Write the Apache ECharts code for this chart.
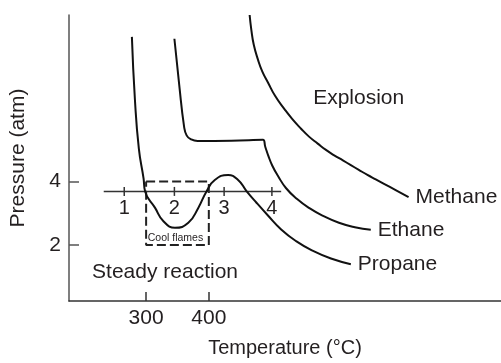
<!DOCTYPE html>
<html>
<head>
<meta charset="utf-8">
<script src="https://cdn.jsdelivr.net/npm/echarts@6/dist/echarts.min.js"></script>
<style>html,body{margin:0;padding:0;background:#fff}#c{width:501px;height:363px}</style>
</head>
<body>
<div id="c"></div>
<script>
// Temperature (°C), Pressure (atm)
const methane = [[465.1,9.26],[467.8,8.79],[471.7,8.32],[478.4,7.85],[485.2,7.48],[494.3,7.13],[505.9,6.70],[520.6,6.29],[532.9,5.98],[547.1,5.67],[559.8,5.42],[573.7,5.20],[586.8,5.00],[600.0,4.83],[613.8,4.67],[626.5,4.52],[639.2,4.37],[653.0,4.21],[666.2,4.07],[679.4,3.93],[698.0,3.73],[718.6,3.51]];
const ethane = [[345.1,8.51],[352.7,7.07],[360.6,5.73],[364.6,5.46],[371.0,5.34],[382.1,5.28],[436.0,5.29],[486.3,5.32],[490.0,5.10],[494.8,4.82],[501.1,4.51],[510.6,4.17],[523.3,3.79],[540.8,3.45],[559.8,3.17],[582.1,2.92],[607.5,2.70],[632.9,2.56],[658.3,2.48]];
const propane = [[277.3,8.57],[282.1,6.60],[288.4,5.04],[295.9,4.10],[298.4,3.69],[314.3,3.17],[327.6,2.75],[346.0,2.54],[367.3,2.70],[383.2,3.17],[396.3,3.69],[409.5,4.05],[430.8,4.21],[446.7,4.05],[459.8,3.71],[475.7,3.34],[494.3,2.93],[515.4,2.49],[539.2,2.12],[566.2,1.81],[594.8,1.57],[626.5,1.39]];
const coolFlameBox = [[300,4],[400,4],[400,2],[300,2],[300,4]];
const scaleLine = [[232.4,3.69],[515.4,3.69]];
const scaleTicks = [[265.1,3.69,'1'],[345.1,3.69,'2'],[424.4,3.69,'3'],[500.6,3.69,'4']];
const xTickValues = [300,400];
const yTickValues = [2,4];
const regionLabels = [[639,6.63,'Explosion'],[330.2,1.13,'Steady reaction']];
const smallLabels = [[346.8,2.22,'Cool flames']];

const FONT = 'Liberation Sans, Arial, Helvetica, sans-serif';
const TXT = '#231f20';
const chart = echarts.init(document.getElementById('c'), null, {renderer:'canvas'});
const curveStyle = {color:'#111', width:2};
function curve(name, data){
  return {type:'line', name:name, data:data, smooth:0.5, showSymbol:false, symbol:'none',
    lineStyle:curveStyle, z:5, silent:true,
    endLabel:{show:true, formatter:'{a}', distance:7, fontSize:21, fontFamily:FONT, color:TXT}};
}
function textSeries(data, size){
  return {type:'scatter', data:data, symbolSize:0, itemStyle:{color:TXT, opacity:1}, z:6, silent:true,
    label:{show:true, position:[0,0], align:'center', verticalAlign:'middle', formatter:p=>p.data[2],
      fontSize:size, fontFamily:FONT, color:TXT, opacity:1}};
}
chart.setOption({
  animation:false,
  grid:{left:67, right:0, top:15, bottom:59},
  xAxis:{type:'value', min:177, max:866, name:'Temperature (°C)', nameLocation:'middle', nameGap:37,
    nameTextStyle:{fontSize:20, fontFamily:FONT, color:TXT},
    axisLine:{show:true, lineStyle:{color:'#333', width:1.5}},
    axisTick:{show:true, inside:true, length:9, customValues:xTickValues, lineStyle:{color:'#333', width:1.5}},
    axisLabel:{show:true, customValues:xTickValues, fontSize:21, fontFamily:FONT, color:TXT, margin:7},
    splitLine:{show:false}},
  yAxis:{type:'value', min:0.23, max:9.26, name:'Pressure (atm)', nameLocation:'middle', nameGap:40, nameRotate:90,
    nameTextStyle:{fontSize:21, fontFamily:FONT, color:TXT},
    axisLine:{show:true, lineStyle:{color:'#555', width:1.5}},
    axisTick:{show:true, inside:true, length:10, customValues:yTickValues, lineStyle:{color:'#555', width:1.5}},
    axisLabel:{show:true, customValues:yTickValues, fontSize:21, fontFamily:FONT, color:TXT, margin:8},
    splitLine:{show:false}},
  series:[
    {type:'line', data:coolFlameBox, showSymbol:false, symbol:'none', z:3, silent:true,
      lineStyle:{color:'#222', width:2, type:[9,4]}},
    {type:'line', data:scaleLine, showSymbol:false, symbol:'none', z:3, silent:true,
      lineStyle:{color:'#333', width:1.5}},
    {type:'scatter', data:scaleTicks, symbol:'rect', symbolSize:[1.5,9], z:4, silent:true,
      itemStyle:{color:'#333', opacity:1},
      label:{show:true, position:'bottom', distance:3, formatter:p=>p.data[2], fontSize:20, fontFamily:FONT, color:TXT, opacity:1}},
    curve('Methane', methane),
    curve('Ethane', ethane),
    curve('Propane', propane),
    textSeries(regionLabels, 21),
    textSeries(smallLabels, 10.5)
  ]
});
</script>
</body>
</html>
